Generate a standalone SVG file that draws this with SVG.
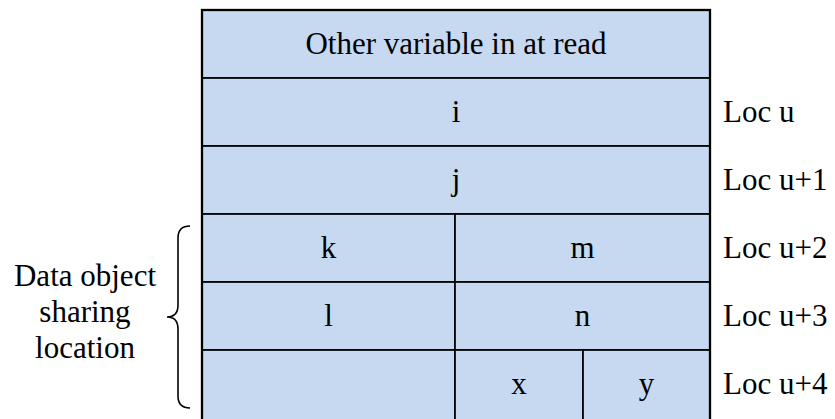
<svg xmlns="http://www.w3.org/2000/svg" width="835" height="419" viewBox="0 0 835 419">
<style>
.cell{fill:#c6d9f1;stroke:#000;stroke-width:1.7}
.outer{fill:none;stroke:#000;stroke-width:2.3}
.t{font-family:"Liberation Serif","Times New Roman",serif;font-size:31px;fill:#000}
.c{text-anchor:middle}
.brace{fill:none;stroke:#000;stroke-width:1.6}
</style>
<rect width="835" height="419" fill="#fff"/>
<g id="row-other">
<rect class="cell" x="202" y="10" width="508" height="68"/>
<text class="t c" x="456" y="54">Other variable in at read</text>
</g>
<g id="row-i">
<rect class="cell" x="202" y="78" width="508" height="68"/>
<text class="t c" x="456" y="122">i</text>
</g>
<g id="row-j">
<rect class="cell" x="202" y="146" width="508" height="68"/>
<text class="t c" x="456" y="190">j</text>
</g>
<g id="cell-k">
<rect class="cell" x="202" y="214" width="253" height="68"/>
<text class="t c" x="328.5" y="258">k</text>
</g>
<g id="cell-m">
<rect class="cell" x="455" y="214" width="255" height="68"/>
<text class="t c" x="582.5" y="258">m</text>
</g>
<g id="cell-l">
<rect class="cell" x="202" y="282" width="253" height="68"/>
<text class="t c" x="328.5" y="326">l</text>
</g>
<g id="cell-n">
<rect class="cell" x="455" y="282" width="255" height="68"/>
<text class="t c" x="582.5" y="326">n</text>
</g>
<g id="cell-empty">
<rect class="cell" x="202" y="350" width="253" height="72"/>
</g>
<g id="cell-x">
<rect class="cell" x="455" y="350" width="128" height="72"/>
<text class="t c" x="519" y="394">x</text>
</g>
<g id="cell-y">
<rect class="cell" x="583" y="350" width="127" height="72"/>
<text class="t c" x="646.5" y="394">y</text>
</g>
<rect class="outer" x="202" y="10" width="508" height="412"/>
<g id="labels">
<text class="t" x="723" y="122">Loc u</text>
<text class="t" x="723" y="190">Loc u+1</text>
<text class="t" x="723" y="258">Loc u+2</text>
<text class="t" x="723" y="326">Loc u+3</text>
<text class="t" x="723" y="394">Loc u+4</text>
</g>
<g id="brace-label">
<path class="brace" d="M190,226 Q178,226 178,238 L178,305 Q178,317 167,317 Q178,317 178,329 L178,396 Q178,408 190,408"/>
<text class="t c" x="85" y="286">Data object</text>
<text class="t c" x="85" y="322">sharing</text>
<text class="t c" x="85" y="358">location</text>
</g>
</svg>
